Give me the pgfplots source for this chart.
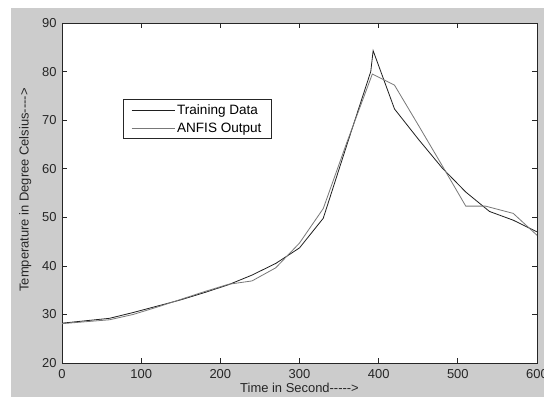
\documentclass[border=0pt]{standalone}
\usepackage{fontspec}
\setmainfont{Liberation Sans}
\usepackage{pgfplots}
\pgfplotsset{compat=1.18}
\definecolor{figbg}{gray}{0.8}
\definecolor{dataA}{gray}{0.12}
\definecolor{dataB}{gray}{0.47}
\newcommand{\mfont}{\fontsize{13}{15}\selectfont}
\newcommand{\lfont}{\fontsize{13.6}{16}\selectfont}
\newcommand{\hy}{\mbox{-}}
\begin{document}
\begin{tikzpicture}[x=1bp,y=1bp]
\useasboundingbox (0,0) rectangle (544,397);
\clip (0,0) rectangle (544,397);
\fill[white] (0,0) rectangle (544,397);
\fill[figbg] (11,0) rectangle (544,389);
\begin{axis}[
  at={(62bp,34bp)}, anchor=south west,
  scale only axis, width=475bp, height=340bp,
  xmin=0, xmax=600, ymin=20, ymax=90,
  xtick={0,100,...,600}, ytick={20,30,...,90},
  tick align=inside, major tick length=5bp,
  axis background/.style={fill=white},
  axis line style={black!85, line width=0.7bp},
  tick style={black!85, line width=0.7bp},
  ticklabel style={font=\mfont, text=black!85},
  xticklabel style={yshift=-3bp},
  yticklabel style={xshift=-2bp},
  /pgf/number format/assume math mode=true,
  xlabel={Time in Second\hy\hy\hy\hy\hy>},
  ylabel={Temperature in Degree Celsius\hy\hy\hy\hy>},
  label style={font=\mfont, text=black!85},
  xlabel style={at={(axis description cs:0.5,-0.0735)}, anchor=center},
  ylabel style={at={(axis description cs:-0.0773,0.509)}, anchor=center},
  legend style={at={(axis description cs:0.1284,0.7765)}, anchor=north west,
    draw=black!85, fill=white, font=\lfont, inner xsep=8bp, inner ysep=3bp,
    row sep=3bp, line width=0.7bp},
  legend cell align=left,
  legend image code/.code={\draw[#1] (0bp,0bp) -- (43bp,0bp);},
]
\addplot[dataA, line width=0.8bp] coordinates {
(0,28.2)(30,28.7)(60,29.2)(90,30.4)(120,31.7)(150,33.0)(180,34.5)(210,36.1)
(240,38.1)(270,40.5)(300,43.7)(330,49.8)(360,65.0)(390,80.0)(393,84.3)
(420,72.3)(450,66.1)(480,60.2)(510,55.2)(540,51.2)(570,49.4)(600,47.0)};
\addlegendentry{Training Data}
\addplot[dataB, line width=0.8bp] coordinates {
(0,28.1)(30,28.5)(60,28.9)(90,30.0)(120,31.5)(150,33.1)(180,34.7)(210,36.2)
(240,36.9)(270,39.6)(300,44.7)(330,51.8)(360,65.5)(392,79.5)(420,77.2)
(450,69.0)(480,60.7)(510,52.3)(535,52.3)(570,50.8)(600,46.3)};
\addlegendentry{ANFIS Output}
\end{axis}
\end{tikzpicture}
\end{document}
